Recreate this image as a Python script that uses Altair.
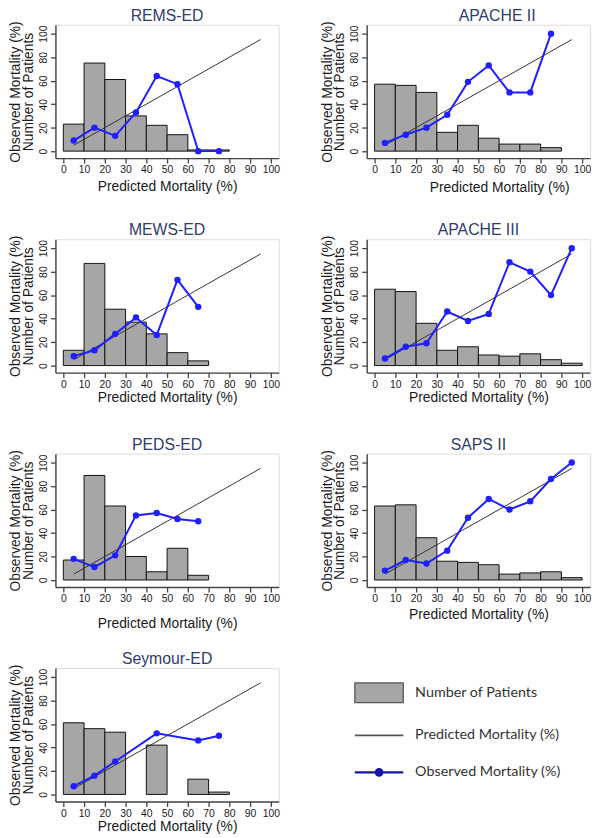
import altair as alt
import pandas as pd

# ---------------- data ----------------
BIN_STARTS = [0, 10, 20, 30, 40, 50, 60, 70, 80, 90]
BIN_ENDS = [10, 20, 30, 40, 50, 60, 70, 80, 90, 100]
PREDICTED_X = [5, 95]
PREDICTED_Y = [5, 95]
X_TICKS = [0, 10, 20, 30, 40, 50, 60, 70, 80, 90, 100]
Y_TICKS = [0, 20, 40, 60, 80, 100]

REMS_ED_PATIENTS = [23, 75, 61, 30, 22, 14, 1, 1]
REMS_ED_OBS_X = [5, 15, 25, 35, 45, 55, 65, 75]
REMS_ED_OBSERVED = [9, 20, 13, 33, 64, 57, 0, 0]

APACHE_II_PATIENTS = [57, 56, 50, 16, 22, 11, 6, 6, 3]
APACHE_II_OBS_X = [5, 15, 25, 35, 45, 55, 65, 75, 85]
APACHE_II_OBSERVED = [7, 14, 20, 31, 59, 73, 50, 50, 100]

MEWS_ED_PATIENTS = [13, 87, 48, 37, 27, 11, 4]
MEWS_ED_OBS_X = [5, 15, 25, 35, 45, 55, 65]
MEWS_ED_OBSERVED = [8, 13, 27, 41, 26, 73, 50]

APACHE_III_PATIENTS = [65, 63, 36, 13, 16, 9, 8, 10, 5, 2]
APACHE_III_OBS_X = [5, 15, 25, 35, 45, 55, 65, 75, 85, 95]
APACHE_III_OBSERVED = [6, 16, 19, 46, 38, 44, 88, 80, 60, 100]

PEDS_ED_PATIENTS = [17, 89, 63, 20, 7, 27, 4]
PEDS_ED_OBS_X = [5, 15, 25, 35, 45, 55, 65]
PEDS_ED_OBSERVED = [18, 11, 21, 55, 57, 52, 50]

SAPS_II_PATIENTS = [63, 64, 36, 16, 15, 13, 5, 6, 7, 2]
SAPS_II_OBS_X = [5, 15, 25, 35, 45, 55, 65, 75, 85, 95]
SAPS_II_OBSERVED = [8, 17, 14, 25, 53, 69, 60, 67, 86, 100]

SEYMOUR_ED_PATIENTS = [61, 56, 53, None, 42, None, 13, 2]
SEYMOUR_ED_OBS_X = [5, 15, 25, 45, 65, 75]
SEYMOUR_ED_OBSERVED = [7, 16, 28, 52, 46, 50]

LEGEND_LABELS = ["Number of Patients", "Predicted Mortality (%)", "Observed Mortality (%)"]

# ---------------- style ----------------
FONT = "Liberation Sans"
TITLE_COLOR = "#2e3d6b"
BAR_FILL = "#a6a6a6"
OBS_BLUE = "#1f1fff"
AXIS_COLOR = "#444444"
W, H = 226, 135
X_DOMAIN = [-3.8, 103.8]
Y_DOMAIN = [-6, 107.6]


def panel(title, patients, obs_x, obs_y, x_title_pad, title_dx=0, x_title_x=None):
    n = len(patients)
    bars = pd.DataFrame({
        "lo": BIN_STARTS[:n], "hi": BIN_ENDS[:n], "n": patients, "base": [0] * n
    }).dropna()
    obs = pd.DataFrame({"px": obs_x, "obs": obs_y})
    pred = pd.DataFrame({"px": PREDICTED_X, "obs": PREDICTED_Y})

    xs = alt.Scale(domain=X_DOMAIN, nice=False, zero=False)
    ys = alt.Scale(domain=Y_DOMAIN, nice=False, zero=False)
    xaxis_kw = dict(
        values=X_TICKS, title="Predicted Mortality (%)", grid=False,
        titleFont=FONT, titleFontSize=14, titleFontWeight="normal", titleColor="#1a1a1a",
        titlePadding=x_title_pad,
        labelFont=FONT, labelFontSize=10.5, labelColor="#1a1a1a", labelPadding=2,
        tickSize=5, tickColor=AXIS_COLOR, tickWidth=1.3,
        domainColor=AXIS_COLOR, domainWidth=1.4, labelFlush=False,
    )
    if x_title_x is not None:
        xaxis_kw["titleX"] = x_title_x
    xaxis = alt.Axis(**xaxis_kw)
    yaxis = alt.Axis(
        values=Y_TICKS, title=["Observed Mortality (%)", "Number of Patients"], grid=False,
        titleFont=FONT, titleFontSize=14, titleFontWeight="normal", titleColor="#1a1a1a",
        titleLineHeight=13, titlePadding=3,
        labelFont=FONT, labelFontSize=10.5, labelColor="#1a1a1a", labelAngle=270,
        labelPadding=2, labelFlush=False,
        tickSize=5, tickColor=AXIS_COLOR, tickWidth=1.3,
        domainColor=AXIS_COLOR, domainWidth=1.4,
    )

    b = alt.Chart(bars).mark_rect(fill=BAR_FILL, stroke="#111111", strokeWidth=1).encode(
        x=alt.X("lo:Q", scale=xs, axis=xaxis), x2="hi:Q",
        y=alt.Y("n:Q", scale=ys, axis=yaxis), y2="base:Q",
    )
    p = alt.Chart(pred).mark_line(color="#333333", strokeWidth=1).encode(
        x=alt.X("px:Q", scale=xs, axis=xaxis), y=alt.Y("obs:Q", scale=ys, axis=yaxis),
    )
    ol = alt.Chart(obs).mark_line(color=OBS_BLUE, strokeWidth=2).encode(
        x=alt.X("px:Q", scale=xs, axis=xaxis), y=alt.Y("obs:Q", scale=ys, axis=yaxis),
    )
    op = alt.Chart(obs).mark_circle(color=OBS_BLUE, size=42, opacity=1).encode(
        x=alt.X("px:Q", scale=xs, axis=xaxis), y=alt.Y("obs:Q", scale=ys, axis=yaxis),
    )
    return alt.layer(b, p, ol, op).properties(
        width=W, height=H,
        title=alt.TitleParams(title, font=FONT, fontSize=16, fontWeight="normal",
                              color=TITLE_COLOR, offset=-3, dx=title_dx, anchor="middle"),
    )


panels = [
    panel("REMS-ED", REMS_ED_PATIENTS, REMS_ED_OBS_X, REMS_ED_OBSERVED, 4),
    panel("APACHE II", APACHE_II_PATIENTS, APACHE_II_OBS_X, APACHE_II_OBSERVED, 5,
          title_dx=19, x_title_x=134),
    panel("MEWS-ED", MEWS_ED_PATIENTS, MEWS_ED_OBS_X, MEWS_ED_OBSERVED, 1),
    panel("APACHE III", APACHE_III_PATIENTS, APACHE_III_OBS_X, APACHE_III_OBSERVED, 1),
    panel("PEDS-ED", PEDS_ED_PATIENTS, PEDS_ED_OBS_X, PEDS_ED_OBSERVED, 12),
    panel("SAPS II", SAPS_II_PATIENTS, SAPS_II_OBS_X, SAPS_II_OBSERVED, 3),
    panel("Seymour-ED", SEYMOUR_ED_PATIENTS, SEYMOUR_ED_OBS_X, SEYMOUR_ED_OBSERVED, 1),
]

# ---------------- legend cell ----------------
BOX = "M-2.45,-1H2.45V1H-2.45Z"
LINE = "M-2.45,0H2.45"
DOTLINE = "M-2.45,0H2.45M-0.33,0A0.33,0.33 0 1,0 0.33,0A0.33,0.33 0 1,0 -0.33,0Z"

leg_df = pd.DataFrame({"item": LEGEND_LABELS})
legend = alt.Legend(
    title=None, orient="none", legendX=316, legendY=665, direction="vertical",
    symbolSize=400, symbolOpacity=1, labelFont="Lato", labelFontSize=14.5,
    labelColor="#333333", labelOffset=25, rowPadding=19, labelLimit=300,
)
legend_cell = alt.Chart(leg_df).transform_filter("false").mark_point(
    filled=True, opacity=1, fillOpacity=1, strokeOpacity=1
).encode(
    fill=alt.Fill("item:N", scale=alt.Scale(domain=LEGEND_LABELS,
                                            range=[BAR_FILL, "#555555", "#1414a8"]),
                  legend=legend),
    stroke=alt.Stroke("item:N", scale=alt.Scale(domain=LEGEND_LABELS,
                                                range=["#555555", "#555555", "#1414a8"])),
    shape=alt.Shape("item:N", scale=alt.Scale(domain=LEGEND_LABELS,
                                              range=[BOX, LINE, DOTLINE])),
    strokeWidth=alt.StrokeWidth("item:N", scale=alt.Scale(domain=LEGEND_LABELS,
                                                          range=[1.3, 2.2, 2.6])),
).properties(width=W, height=H)

chart = alt.concat(
    *panels, legend_cell, columns=2,
    spacing=alt.RowColnumber(row=82, column=89), bounds="flush",
).properties(
    padding={"left": 0, "top": -6, "right": 0, "bottom": 0},
).configure_view(stroke=None).configure(background="white")

chart.save("out.html", embed_options={"renderer": "svg", "actions": False})
